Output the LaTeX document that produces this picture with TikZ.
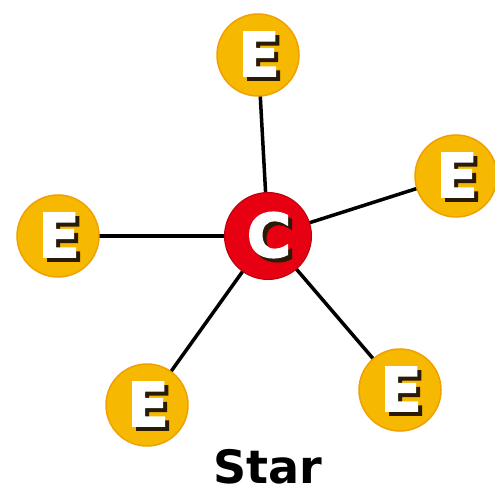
\documentclass[tikz,border=0pt]{standalone}
\usepackage{fontspec}
\setmainfont{DejaVu Sans}
\newfontfamily\heavyfont[FakeBold=3]{DejaVu Sans Bold}
\usetikzlibrary{calc}
\definecolor{eyellow}{HTML}{F6B800}
\definecolor{eorange}{HTML}{F0A000}
\definecolor{cred}{HTML}{E60012}
\definecolor{shadowc}{HTML}{2A1A08}
\newcommand{\shadowed}[1]{\makebox[0pt][l]{\hspace{4pt}\raisebox{-4pt}{\color{shadowc}#1}}\color{white}#1}
\begin{document}
\begin{tikzpicture}[x=1pt,y=-1pt,
  edge/.style={draw=black,line width=3.5pt},
  enode/.style={circle,fill=eyellow,draw=eorange,line width=1.5pt,minimum size=82pt,inner sep=0pt},
  cnode/.style={circle,fill=cred,draw=cred!80!black,line width=1pt,minimum size=87pt,inner sep=0pt},
  lbl/.style={font=\fontsize{60}{60}\heavyfont,inner sep=0pt}]
\useasboundingbox (0,0) rectangle (495,494);
\fill[white] (0,0) rectangle (495,494);
\coordinate (pc) at (268,236);
\coordinate (p1) at (258,55);
\coordinate (p2) at (456,176);
\coordinate (p3) at (58,236);
\coordinate (p4) at (147,405);
\coordinate (p5) at (400,390);
\foreach \i in {1,...,5}{\draw[edge] (pc) -- (p\i);}
\foreach \i in {1,...,5}{
  \node[enode] (e\i) at (p\i) {};
  \node[lbl] (l\i) at ($(p\i)+(1,1)$) {\shadowed{E}};
}
\node[cnode] (c) at (pc) {};
\node[lbl] (lc) at ($(pc)+(1,1)$) {\shadowed{C}};
\node[font=\fontsize{46}{46}\selectfont\bfseries,inner sep=0pt] (t) at (268,467) {Star};
\end{tikzpicture}
\end{document}
